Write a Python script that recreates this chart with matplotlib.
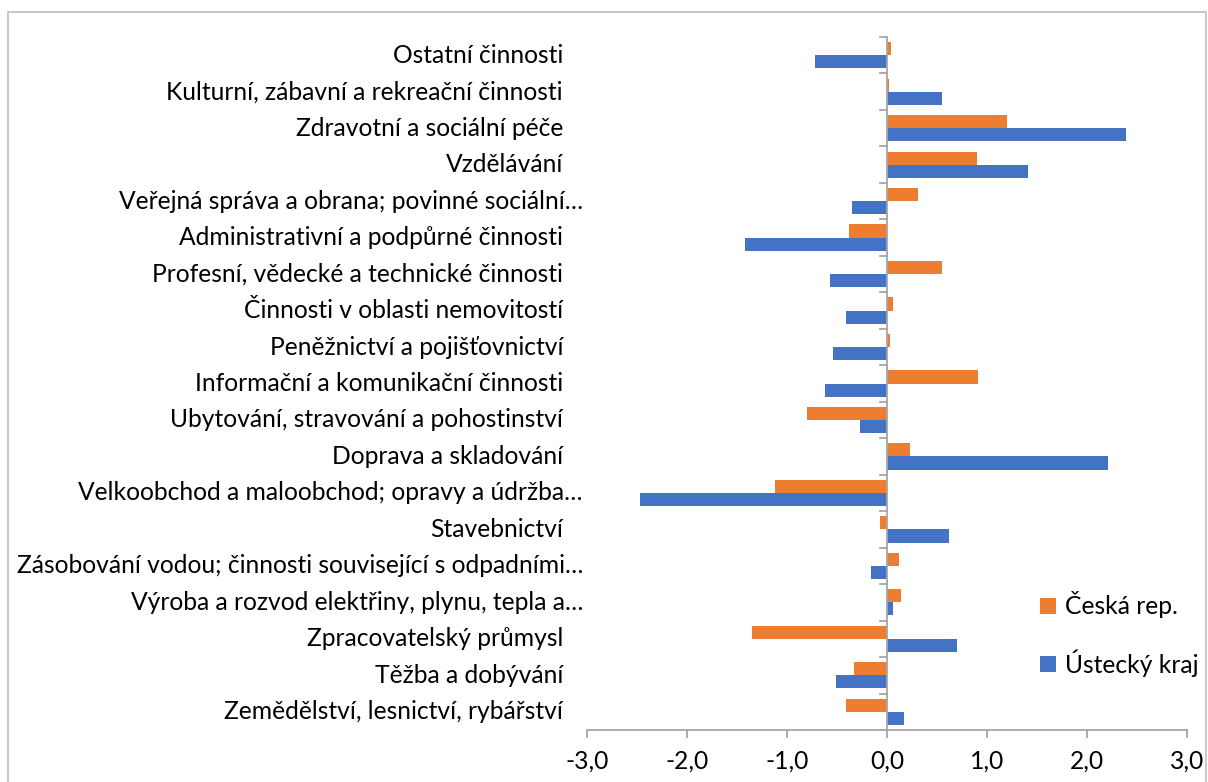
import matplotlib.pyplot as plt
import matplotlib.patches as patches
import matplotlib.transforms as mtransforms
import numpy as np

# --- dane (od gory do dolu) ---
kategorie = [
    "Ostatní činnosti",
    "Kulturní, zábavní a rekreační činnosti",
    "Zdravotní a sociální péče",
    "Vzdělávání",
    "Veřejná správa a obrana; povinné sociální…",
    "Administrativní a podpůrné činnosti",
    "Profesní, vědecké a technické činnosti",
    "Činnosti v oblasti nemovitostí",
    "Peněžnictví a pojišťovnictví",
    "Informační a komunikační činnosti",
    "Ubytování, stravování a pohostinství",
    "Doprava a skladování",
    "Velkoobchod a maloobchod; opravy a údržba…",
    "Stavebnictví",
    "Zásobování vodou; činnosti související s odpadními…",
    "Výroba a rozvod elektřiny, plynu, tepla a…",
    "Zpracovatelský průmysl",
    "Těžba a dobývání",
    "Zemědělství, lesnictví, rybářství",
]
ceska_rep = [0.04, 0.02, 1.20, 0.90, 0.31, -0.38, 0.55, 0.06, 0.03, 0.91,
             -0.80, 0.23, -1.12, -0.07, 0.12, 0.14, -1.35, -0.33, -0.41]
ustecky_kraj = [-0.72, 0.55, 2.39, 1.41, -0.35, -1.42, -0.57, -0.41, -0.54, -0.62,
                -0.27, 2.21, -2.47, 0.62, -0.16, 0.06, 0.70, -0.51, 0.17]
x_ticky = [-3, -2, -1, 0, 1, 2, 3]

oranzova = "#ED7D31"
modra = "#4472C4"
seda = "#A6A6A6"
FS = 17.7

plt.rcParams['font.family'] = ['Lato', 'DejaVu Sans']

fig = plt.figure(figsize=(12.08, 7.82), dpi=100)
ax = fig.add_axes([587 / 1208, 1 - 730 / 782, 600 / 1208, (730 - 37) / 782])

y = np.arange(len(kategorie))
h = 0.36
ax.barh(y - h / 2, ceska_rep, height=h, color=oranzova, label="Česká rep.")
ax.barh(y + h / 2, ustecky_kraj, height=h, color=modra, label="Ústecký kraj")

ax.set_xlim(-3, 3)
ax.set_ylim(len(kategorie) - 0.5, -0.5)

# osa y v nule
ax.axvline(0, color=seda, lw=1.3, zorder=3)
for s in ["left", "top", "right"]:
    ax.spines[s].set_visible(False)
ax.spines["bottom"].set_color(seda)
ax.spines["bottom"].set_linewidth(1.3)

ax.set_yticks([])
# kratke carky u nuly (hranice kategorii)
for b in np.arange(len(kategorie) + 1) - 0.5:
    ax.plot([-0.07, 0], [b, b], color=seda, lw=1.3, clip_on=False, zorder=3)

ax.set_xticks(x_ticky)
ax.set_xticklabels([("%.1f" % v).replace(".", ",") for v in x_ticky], fontsize=FS)
ax.tick_params(axis="x", length=6, width=1.3, color=seda, pad=8)

# popisky kategorii
trans = ax.get_yaxis_transform() + mtransforms.ScaledTranslation(-24 / 100, 0, fig.dpi_scale_trans)
trans2 = ax.get_yaxis_transform() + mtransforms.ScaledTranslation(-4 / 100, 0, fig.dpi_scale_trans)
for i, k in enumerate(kategorie):
    t = trans2 if k.endswith("…") else trans
    ax.text(0, i, k, transform=t, ha="right", va="center", fontsize=FS)

ax.legend(loc="center left", bbox_to_anchor=(1040 / 1208, 1 - 634 / 782),
          bbox_transform=fig.transFigure, frameon=False, fontsize=FS,
          handlelength=0.65, handleheight=0.65, handletextpad=0.35,
          labelspacing=1.25, borderpad=0, borderaxespad=0)

# ramecek
fig.patches.append(patches.Rectangle((8 / 1208, -0.02), 1198 / 1208, 1 - 12 / 782 + 0.02,
                                     transform=fig.transFigure, fill=False,
                                     edgecolor="#BFBFBF", lw=1.2))

fig.savefig("out.png", dpi=100)
